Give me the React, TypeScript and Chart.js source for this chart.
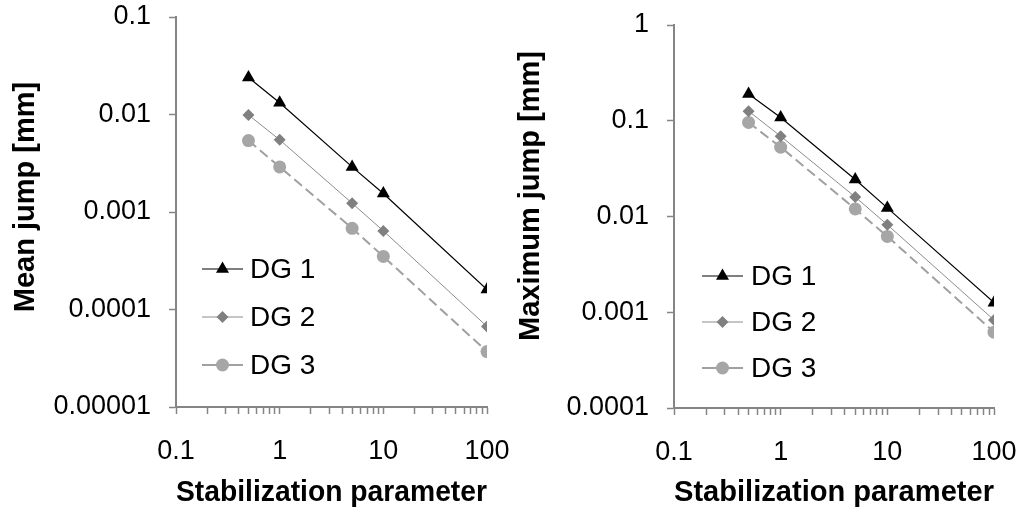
import React, { useEffect, useRef } from 'react';
import { Chart, registerables } from 'chart.js';
import { drawPoint } from 'chart.js/helpers';

Chart.register(...registerables);

const FONT = "'Liberation Sans', Arial, Helvetica, sans-serif";

// ---- data ----
const xValues = [0.5, 1, 5, 10, 100];
const seriesLabels = ['DG 1', 'DG 2', 'DG 3'];

const meanDG1 = [0.024, 0.0132, 0.0029, 0.00155, 0.00016];
const meanDG2 = [0.0099, 0.0055, 0.00123, 0.00064, 0.000067];
const meanDG3 = [0.0054, 0.0029, 0.00068, 0.00035, 0.000037];

const maxDG1 = [0.19, 0.108, 0.0243, 0.0123, 0.00126];
const maxDG2 = [0.126, 0.069, 0.016, 0.0082, 0.00083];
const maxDG3 = [0.096, 0.053, 0.012, 0.0062, 0.00062];

const xMajorTicks = [0.1, 1, 10, 100];
const xTickLabels = ['0.1', '1', '10', '100'];
const xMinorMultipliers = [2, 3, 4, 5, 6, 7, 8, 9];

const meanYTicks = [0.00001, 0.0001, 0.001, 0.01, 0.1];
const meanYTickLabels = ['0.00001', '0.0001', '0.001', '0.01', '0.1'];
const maxYTicks = [0.0001, 0.001, 0.01, 0.1, 1];
const maxYTickLabels = ['0.0001', '0.001', '0.01', '0.1', '1'];

const xTitle = 'Stabilization parameter';
const meanTitle = 'Mean jump [mm]';
const maxTitle = 'Maximum jump [mm]';

// ---- styles ----
const seriesStyles = [
  { borderColor: '#000000', borderWidth: 1.2, borderDash: [], pointStyle: 'triangle', pointRadius: 7.5, pointBackgroundColor: '#000000' },
  { borderColor: '#8c8c8c', borderWidth: 1, borderDash: [], pointStyle: 'rectRot', pointRadius: 6, pointBackgroundColor: '#808080' },
  { borderColor: '#a0a0a0', borderWidth: 2, borderDash: [10, 5], pointStyle: 'circle', pointRadius: 6.5, pointBackgroundColor: '#a6a6a6' },
];

const AXIS_COLOR = '#858585';

const insideLegend = {
  id: 'insideLegend',
  afterDatasetsDraw(chart: any, _args: any, o: any) {
    const ctx = chart.ctx;
    chart.data.datasets.forEach((ds: any, i: number) => {
      const y = o.y + i * o.gap;
      ctx.save();
      ctx.strokeStyle = ds.borderColor;
      ctx.lineWidth = ds.borderWidth;
      ctx.setLineDash([]);
      ctx.beginPath();
      ctx.moveTo(o.x, y);
      ctx.lineTo(o.x + o.len, y);
      ctx.stroke();
      ctx.fillStyle = ds.pointBackgroundColor;
      ctx.strokeStyle = ds.pointBackgroundColor;
      drawPoint(ctx, { pointStyle: ds.pointStyle, rotation: 0, borderWidth: 0, radius: ds.pointRadius } as any, o.x + o.len / 2, y);
      ctx.fillStyle = '#000000';
      ctx.font = `28px ${FONT}`;
      ctx.textAlign = 'left';
      ctx.textBaseline = 'middle';
      ctx.fillText(ds.label, o.textX, y + 1);
      ctx.restore();
    });
  },
};

const yTitlePlugin = {
  id: 'yTitle',
  afterDraw(chart: any, _args: any, o: any) {
    const ctx = chart.ctx;
    ctx.save();
    ctx.translate(o.x, o.y);
    ctx.rotate(-Math.PI / 2);
    ctx.fillStyle = '#000000';
    ctx.font = `bold 29px ${FONT}`;
    ctx.textAlign = 'center';
    ctx.textBaseline = 'middle';
    ctx.fillText(o.text, 0, 0);
    ctx.restore();
  },
};

type PanelProps = {
  left: number;
  width: number;
  series: number[][];
  yTicks: number[];
  yTickLabels: string[];
  yTitle: string;
  area: { left: number; right: number; top: number; bottom: number };
  legend: { x: number; len: number; textX: number; y: number; gap: number };
  yTitlePos: { x: number; y: number };
};

function Panel(p: PanelProps) {
  const ref = useRef<HTMLCanvasElement>(null);
  useEffect(() => {
    const H = 516;
    const xTicksAll: { value: number; major: boolean }[] = [];
    xMajorTicks.forEach((m, i) => {
      xTicksAll.push({ value: m, major: true });
      if (i < xMajorTicks.length - 1) {
        xMinorMultipliers.forEach((k) => xTicksAll.push({ value: m * k, major: false }));
      }
    });
    const datasets = p.series.map((vals, i) => ({
      label: seriesLabels[i],
      data: xValues.map((x, j) => ({ x, y: vals[j] })),
      showLine: true,
      fill: false,
      tension: 0,
      ...seriesStyles[i],
      pointBorderWidth: 0,
      pointBorderColor: seriesStyles[i].pointBackgroundColor,
      pointHoverRadius: seriesStyles[i].pointRadius,
    }));
    const chart = new Chart(ref.current!, {
      type: 'scatter',
      data: { datasets } as any,
      plugins: [insideLegend, yTitlePlugin],
      options: {
        animation: false,
        responsive: false,
        layout: { autoPadding: false, padding: { left: 0, top: p.area.top, right: p.width - p.area.right, bottom: 0 } },
        plugins: {
          legend: { display: false },
          tooltip: { enabled: false },
          insideLegend: p.legend,
          yTitle: { ...p.yTitlePos, text: p.yTitle },
        } as any,
        scales: {
          x: {
            type: 'logarithmic',
            min: 0.1,
            max: 100,
            afterBuildTicks: (s: any) => {
              s.ticks = xTicksAll.map((t) => ({ value: t.value, major: t.major }));
            },
            afterFit: (s: any) => {
              s.height = H - p.area.bottom;
              s.paddingLeft = 0;
              s.paddingRight = 0;
            },
            ticks: {
              autoSkip: false,
              maxRotation: 0,
              minRotation: 0,
              padding: 21,
              color: '#000000',
              font: { family: FONT, size: 27 },
              callback: (v: any) => {
                const idx = xMajorTicks.findIndex((m) => Math.abs(m - Number(v)) / m < 1e-6);
                return idx >= 0 ? xTickLabels[idx] : '';
              },
            },
            grid: { drawOnChartArea: false, drawTicks: true, tickLength: 7, tickColor: AXIS_COLOR, tickWidth: 1.5 },
            border: { display: true, color: AXIS_COLOR, width: 2 },
            title: { display: true, text: xTitle, color: '#000000', font: { family: FONT, size: 30, weight: 'bold' }, padding: { top: 0, bottom: 5 } },
          },
          y: {
            type: 'logarithmic',
            min: p.yTicks[0],
            max: p.yTicks[p.yTicks.length - 1],
            afterBuildTicks: (s: any) => {
              s.ticks = p.yTicks.map((v) => ({ value: v }));
            },
            afterFit: (s: any) => {
              s.width = p.area.left;
              s.paddingTop = 0;
              s.paddingBottom = 0;
            },
            ticks: {
              autoSkip: false,
              padding: 18,
              color: '#000000',
              font: { family: FONT, size: 27 },
              callback: (v: any) => {
                const idx = p.yTicks.findIndex((m) => Math.abs(m - Number(v)) / m < 1e-6);
                return idx >= 0 ? p.yTickLabels[idx] : '';
              },
            },
            grid: { drawOnChartArea: false, drawTicks: true, tickLength: 7, tickColor: AXIS_COLOR, tickWidth: 1.5 },
            border: { display: true, color: AXIS_COLOR, width: 2 },
            title: { display: false },
          },
        },
      } as any,
    });
    return () => chart.destroy();
  }, []);
  return (
    <div style={{ position: 'absolute', left: p.left, top: 0, width: p.width, height: 516 }}>
      <canvas ref={ref} width={p.width} height={516} style={{ display: 'block' }} />
    </div>
  );
}

export default function App() {
  return (
    <div style={{ position: 'absolute', left: 0, top: 0, width: 1023, height: 516, background: '#ffffff', overflow: 'hidden' }}>
      <Panel
        left={0}
        width={511}
        series={[meanDG1, meanDG2, meanDG3]}
        yTicks={meanYTicks}
        yTickLabels={meanYTickLabels}
        yTitle={meanTitle}
        area={{ left: 176, right: 487, top: 17, bottom: 407 }}
        legend={{ x: 202, len: 41, textX: 250, y: 269, gap: 48 }}
        yTitlePos={{ x: 26, y: 197 }}
      />
      <Panel
        left={511}
        width={512}
        series={[maxDG1, maxDG2, maxDG3]}
        yTicks={maxYTicks}
        yTickLabels={maxYTickLabels}
        yTitle={maxTitle}
        area={{ left: 163, right: 483, top: 25, bottom: 408 }}
        legend={{ x: 191, len: 41, textX: 240, y: 276, gap: 46 }}
        yTitlePos={{ x: 20, y: 196 }}
      />
    </div>
  );
}
